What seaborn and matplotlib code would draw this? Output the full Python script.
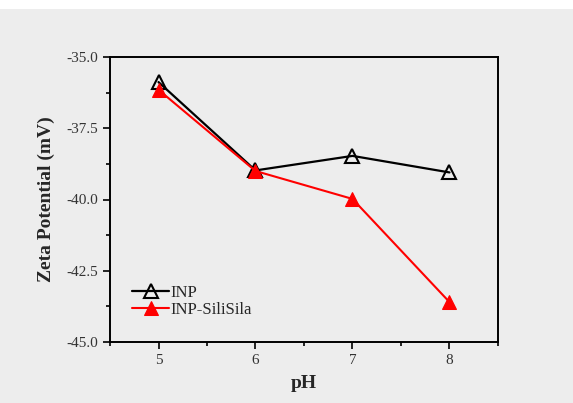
import numpy as np
import pandas as pd
import matplotlib
matplotlib.use("Agg")
import matplotlib.pyplot as plt
import seaborn as sns
from matplotlib.patches import Rectangle
from matplotlib.ticker import MultipleLocator

# data
ph = [5, 6, 7, 8]
inp = [-35.88, -38.98, -38.47, -39.05]
inp_silisila = [-36.15, -39.0, -39.98, -43.6]

sns.set_theme(style="ticks")
plt.rcParams['font.family'] = ['Liberation Serif', 'DejaVu Serif']

bg = '#ededed'
fig = plt.figure(figsize=(5.73, 4.03), dpi=100, facecolor=bg)
fig.add_artist(Rectangle((0, 0.978), 1, 0.022, transform=fig.transFigure,
                         facecolor='white', edgecolor='none'))
ax = fig.add_axes([110 / 573, 1 - 342 / 403, 388 / 573, 285 / 403])
ax.set_facecolor(bg)

sns.lineplot(x=ph, y=inp, ax=ax, color='black', marker='^', markersize=10,
             markerfacecolor='none', markeredgecolor='black', markeredgewidth=1.5,
             linewidth=1.6, label='INP')
sns.lineplot(x=ph, y=inp_silisila, ax=ax, color='red', marker='^', markersize=10,
             markerfacecolor='red', markeredgecolor='red',
             linewidth=1.5, label='INP-SiliSila')

ax.set_xlim(4.5, 8.5)
ax.set_ylim(-45, -35)
ax.set_xticks(ph)
ax.xaxis.set_minor_locator(MultipleLocator(0.5))
ax.yaxis.set_major_locator(MultipleLocator(2.5))
ax.yaxis.set_minor_locator(MultipleLocator(1.25))
ax.yaxis.set_major_formatter(matplotlib.ticker.FormatStrFormatter('%.1f'))
ax.tick_params(which='major', direction='out', length=5, width=1.2, labelsize=11,
               color='black', labelcolor='#333333')
ax.tick_params(which='minor', direction='out', length=3, width=1.2, color='black')
for s in ax.spines.values():
    s.set_linewidth(1.4)
    s.set_color('black')

ax.set_xlabel('pH', fontsize=14, fontweight='bold', labelpad=6)
ax.set_ylabel('Zeta Potential (mV)', fontsize=14, fontweight='bold', labelpad=8)

ax.legend(loc='lower left', bbox_to_anchor=(0.015, 0.025), frameon=False, fontsize=12,
          handlelength=2.2, handletextpad=0.1, labelspacing=0.1, borderaxespad=0.6)

fig.savefig('out.png', dpi=100, facecolor=bg)
